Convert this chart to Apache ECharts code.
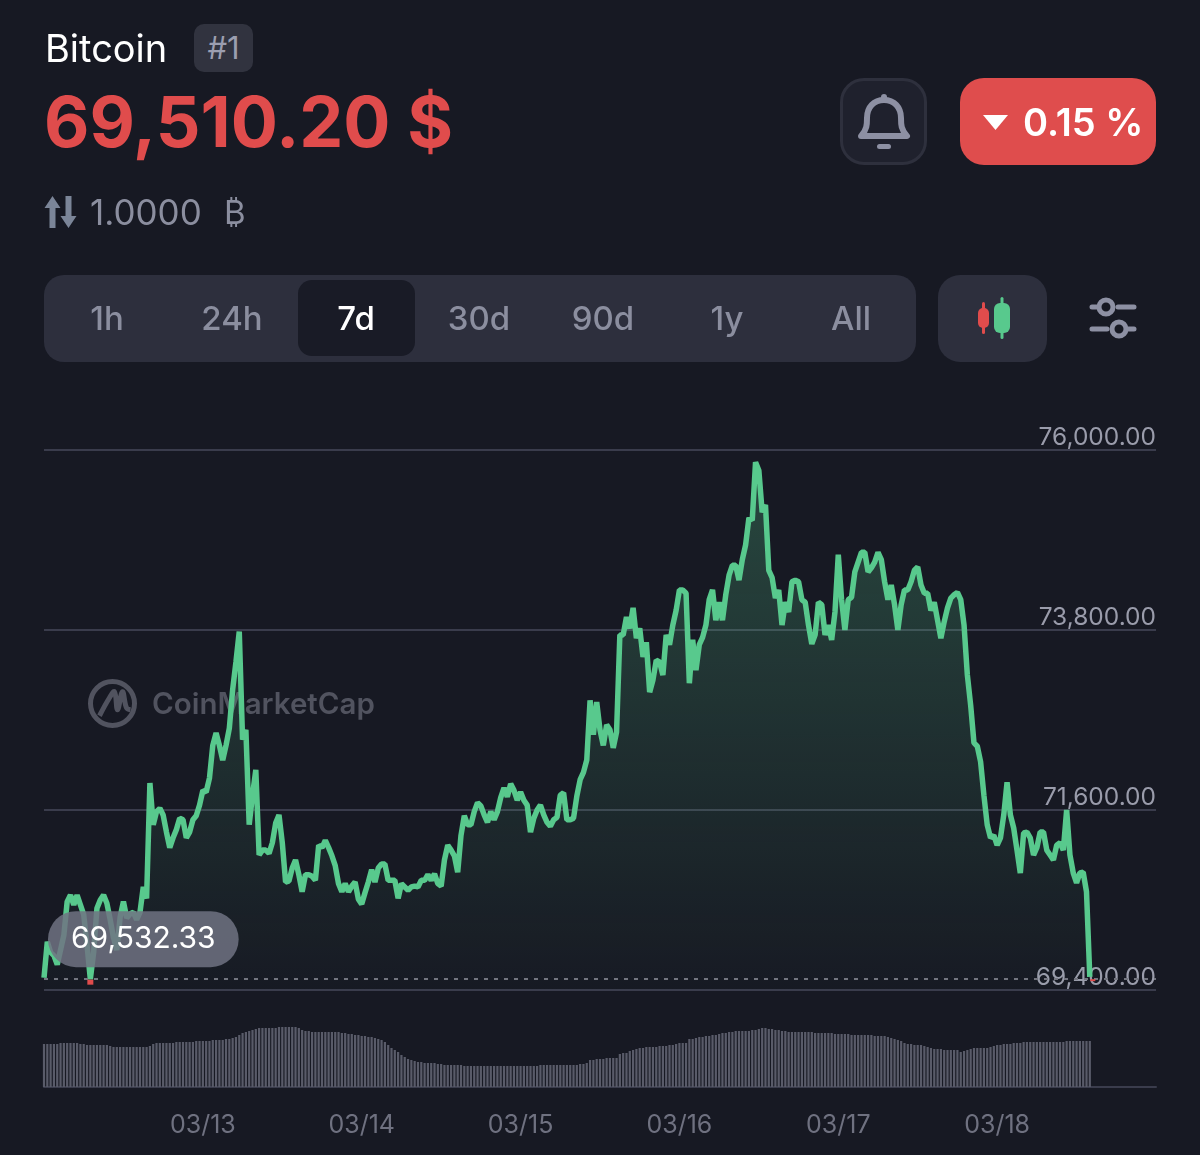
<!DOCTYPE html>
<html>
<head>
<meta charset="utf-8">
<title>Bitcoin</title>
<script src="https://cdn.jsdelivr.net/npm/echarts@6/dist/echarts.min.js"></script>
<style>
  html, body { margin: 0; padding: 0; background: #171923; }
  body { position: relative; width: 1200px; height: 1155px; overflow: hidden; font-family: Inter, "Noto Sans", sans-serif; }
  #chart { position: absolute; left: 0; top: 0; width: 1200px; height: 1155px; }
  .abs { position: absolute; white-space: nowrap; }
  .tab { position: absolute; top: 275px; height: 87px; line-height: 87px; width: 110px; margin-left: -55px; text-align: center; font-size: 33px; font-weight: 500; color: #8b8e9f; }
</style>
</head>
<body>
<div id="chart"></div>

<!-- header -->
<div class="abs" style="left:45px;top:26px;font-size:38px;line-height:44px;font-weight:400;color:#fff">Bitcoin</div>
<div class="abs" style="left:194px;top:24px;width:59px;height:48px;line-height:48px;border-radius:10px;background:#31333f;color:#9b9eb0;font-size:31px;text-align:center">#1</div>
<div class="abs" style="left:44px;top:78px;font-size:70px;line-height:88px;font-weight:700;color:#e04c4c">69,510.20 $</div>
<svg class="abs" style="left:43px;top:195px" width="35" height="34" viewBox="0 0 34 34">
  <path d="M9 1 L17 13 H12 V33 H6 V13 H1 Z M25 33 L33 21 H28 V1 H22 V21 H17 Z" fill="#7b8598"/>
</svg>
<div class="abs" style="left:90px;top:190px;font-size:35px;line-height:44px;color:#8b8e9f">1.0000</div>
<div class="abs" style="left:224px;top:190px;font-size:33px;line-height:44px;color:#8b8e9f">₿</div>

<!-- alert and change buttons -->
<div class="abs" style="left:840px;top:78px;width:81px;height:81px;border:3px solid #2e303d;border-radius:24px;background:#1f212d"></div>
<svg class="abs" style="left:855px;top:90px" width="58" height="64" viewBox="0 0 58 64">
  <path d="M6 46 C12 40 12 34 12 28 C12 17 19 10 29 10 C39 10 46 17 46 28 C46 34 46 40 52 46 Z" fill="none" stroke="#8d90a3" stroke-width="6" stroke-linejoin="round"/>
  <rect x="26" y="4" width="6" height="8" rx="3" fill="#8d90a3"/>
  <rect x="22" y="54" width="14" height="5" rx="2.5" fill="#8d90a3"/>
</svg>
<div class="abs" style="left:960px;top:78px;width:196px;height:87px;border-radius:24px;background:#df4d4d"></div>
<svg class="abs" style="left:982px;top:114px" width="27" height="17" viewBox="0 0 27 17"><path d="M1 1 H26 L13.5 16 Z" fill="#fff"/></svg>
<div class="abs" style="left:1023px;top:79px;height:87px;line-height:87px;font-size:38px;font-weight:600;color:#fff">0.15 %</div>

<!-- range tabs -->
<div class="abs" style="left:44px;top:275px;width:872px;height:87px;border-radius:20px;background:#2d2f3d"></div>
<div class="abs" style="left:298px;top:280px;width:117px;height:76px;border-radius:14px;background:#191b26"></div>
<div class="tab" style="left:107px">1h</div>
<div class="tab" style="left:232px">24h</div>
<div class="tab" style="left:356px;color:#fff">7d</div>
<div class="tab" style="left:479px">30d</div>
<div class="tab" style="left:603px">90d</div>
<div class="tab" style="left:727px">1y</div>
<div class="tab" style="left:851px">All</div>

<div class="abs" style="left:938px;top:275px;width:109px;height:87px;border-radius:22px;background:#2d2f3d"></div>
<svg class="abs" style="left:975px;top:296px" width="38" height="44" viewBox="0 0 38 44">
  <rect x="7" y="6" width="3" height="32" rx="1.5" fill="#e04c4c"/>
  <rect x="3" y="12" width="11" height="20" rx="5" fill="#e04c4c"/>
  <rect x="25.5" y="1" width="3" height="42" rx="1.5" fill="#58c98d"/>
  <rect x="19" y="7" width="16" height="30" rx="6" fill="#58c98d"/>
</svg>
<svg class="abs" style="left:1088px;top:296px" width="50" height="44" viewBox="0 0 50 44">
  <g fill="none" stroke="#8d90a3" stroke-width="5" stroke-linecap="round">
    <path d="M4 11 H9 M30 11 H46 M4 33 H19 M40 33 H46"/>
    <circle cx="18" cy="11" r="7"/>
    <circle cx="31" cy="33" r="7"/>
  </g>
</svg>

<script>
// 30 分钟一个点，从 03/12 00:00 开始
const stepHours = 0.5;
const priceLow = 69532.33;
const priceLowHour = 7;
const yTicks = [69400, 71600, 73800, 76000];
const dayLabels = ["03/12", "03/13", "03/14", "03/15", "03/16", "03/17", "03/18", "03/19"];

const priceValues = [
  69550,69990,69860,69820,69710,69890,70070,70480,70560,70440,
  70560,70440,70320,69950,priceLow,69860,70400,70500,70560,70460,
  70260,70040,69890,70290,70480,70280,70330,70350,70260,70350,
  70660,70520,71930,71420,71580,71620,71540,71330,71140,71260,
  71360,71500,71480,71260,71330,71480,71530,71660,71840,71820,
  71990,72390,72540,72390,72210,72390,72600,73070,73410,73780,
  72460,72580,71420,71780,72090,71050,71110,71110,71070,71200,
  71440,71540,71200,70720,70730,70890,70990,70810,70600,70810,
  70810,70790,70740,71170,71140,71230,71140,71040,70920,70700,
  70600,70700,70600,70670,70720,70510,70450,70590,70720,70870,
  70720,70890,70940,70940,70740,70740,70740,70520,70700,70660,
  70620,70660,70670,70660,70740,70740,70810,70740,70820,70700,
  70670,70990,71170,71110,71040,70840,71290,71530,71420,71420,
  71580,71690,71650,71540,71450,71580,71480,71580,71750,71870,
  71760,71920,71840,71720,71820,71720,71660,71330,71500,71600,
  71660,71540,71450,71400,71480,71510,71780,71810,71480,71480,
  71500,71770,71970,72060,72210,72940,72520,72920,72580,72390,
  72640,72580,72360,72550,73740,73740,73960,73820,74070,73700,
  73820,73470,73650,73040,73190,73430,73410,73250,73740,73620,
  73860,74040,74290,74290,74250,73150,73680,73310,73620,73710,
  73860,74170,74290,73920,74140,73920,74230,74470,74590,74590,
  74410,74660,74840,75170,75140,75850,75750,75240,75330,74530,
  74440,74190,74290,73860,74140,74020,74390,74410,74390,74170,
  74140,73860,73630,73740,74140,74110,73740,73860,73680,74020,
  74720,74170,73800,74170,74200,74510,74630,74750,74750,74510,
  74560,74630,74750,74660,74390,74170,74350,74110,73800,74110,
  74290,74290,74390,74530,74570,74350,74250,74250,74040,74140,
  73920,73700,73900,74070,74190,74230,74260,74170,73860,73250,
  72880,72420,72380,72190,71780,71420,71260,71290,71170,71260,
  71540,71940,71540,71380,71110,70830,71320,71330,71260,71050,
  71140,71330,71330,71110,71050,70990,71170,71200,71110,71600,
  71050,70830,70710,70830,70840,70600,69560
];

// 成交量（十亿）
const volumeValues = [
  43,43,43,43,43,44,44,44,44,44,
  44,43,43,42,42,42,42,42,42,42,
  41,40,40,40,40,40,40,40,40,40,
  40,40,41,43,44,44,44,44,44,44,
  45,45,45,45,45,45,46,46,46,46,
  46,47,47,47,47,48,48,49,50,52,
  54,55,56,57,58,59,59,59,59,59,
  59,60,60,60,60,60,60,59,57,56,
  56,55,55,55,55,55,55,55,55,55,
  54,54,53,53,52,52,51,51,50,50,
  49,48,47,45,42,39,37,35,32,30,
  28,27,26,25,25,24,24,24,24,23,
  23,22,22,22,22,22,22,21,21,21,
  21,21,21,21,21,21,21,21,21,21,
  21,21,21,21,21,21,21,21,21,21,
  22,22,22,22,22,22,22,22,22,22,
  22,22,23,23,24,27,27,28,28,28,
  29,29,29,29,33,34,34,36,37,38,
  39,39,40,40,40,40,41,41,41,42,
  42,43,44,44,44,48,48,49,50,50,
  51,51,52,52,53,54,54,55,55,56,
  56,56,56,56,57,57,58,59,59,58,
  58,57,57,56,56,55,55,55,55,55,
  55,55,55,54,54,54,54,54,54,53,
  53,53,53,53,52,52,52,52,52,52,
  52,51,51,51,51,50,49,48,47,46,
  44,43,43,42,42,42,41,40,39,38,
  38,38,37,37,37,37,37,35,36,37,
  38,39,39,39,39,39,40,41,42,42,
  43,43,43,44,44,44,45,45,45,45,
  45,45,45,45,45,45,45,45,45,46,
  46,46,46,46,46,46,46
];

const fontFamily = "Inter, 'Noto Sans', sans-serif";
const gridColor = "#3a3c4c";
const green = "#58c98d";
const red = "#e04c4c";
const watermark = "#51535f";

const chart = echarts.init(document.getElementById("chart"));
chart.setOption({
  backgroundColor: "transparent",
  animation: false,
  textStyle: { fontFamily },
  grid: [
    { left: 44, right: 44, top: 450, height: 540 },
    { left: 44, right: 44, top: 1027, height: 60 }
  ],
  xAxis: [
    { type: "value", gridIndex: 0, min: 0, max: 168, interval: 24, show: false },
    {
      type: "value", gridIndex: 1, min: 0, max: 168, interval: 24,
      splitLine: { show: false },
      axisTick: { show: false },
      axisLine: { lineStyle: { color: gridColor, width: 2 } },
      axisLabel: {
        showMinLabel: false, showMaxLabel: false, margin: 26,
        color: "#6f7180", fontSize: 25, fontFamily,
        formatter: (v) => dayLabels[v / 24]
      }
    }
  ],
  yAxis: [
    {
      type: "value", gridIndex: 0, position: "right", min: 69400, max: 76000,
      axisLine: { show: false },
      axisTick: { show: false, customValues: yTicks },
      splitLine: { show: true, lineStyle: { color: gridColor, width: 2 } },
      axisLabel: {
        customValues: yTicks, inside: true, margin: 0,
        align: "right", verticalAlign: "bottom", lineHeight: 24,
        color: "#9a9cab", fontSize: 24.5, fontFamily,
        formatter: (v) => v.toLocaleString("en-US", { minimumFractionDigits: 2 })
      }
    },
    { type: "value", gridIndex: 1, min: 0, max: 60, show: false }
  ],
  // 水印
  graphic: [
    { type: "circle", left: 88, top: 679, shape: { r: 22 }, style: { fill: "none", stroke: watermark, lineWidth: 5 } },
    { type: "polyline", left: 97, top: 689, shape: { smooth: 0.4, points: [[0, 26], [10, 8], [15, 2], [18, 20], [23, 2], [27, 18], [31, 20]] }, style: { fill: "none", stroke: watermark, lineWidth: 5 } },
    { type: "text", left: 152, top: 690, style: { text: "CoinMarketCap", fill: watermark, font: "600 29.5px " + fontFamily } }
  ],
  series: [
    {
      type: "line",
      xAxisIndex: 0, yAxisIndex: 0,
      data: priceValues.map((v, i) => [i * stepHours, v]),
      showSymbol: false,
      lineStyle: { color: green, width: 5.5, join: "bevel" },
      areaStyle: {
        origin: "start",
        color: new echarts.graphic.LinearGradient(0, 0, 0, 1, [
          { offset: 0, color: "rgba(88,201,141,0.38)" },
          { offset: 1, color: "rgba(88,201,141,0.01)" }
        ])
      },
      markLine: {
        silent: true, symbol: "none",
        label: { show: false },
        lineStyle: { color: "#73757f", type: [4, 6], width: 2 },
        data: [{ yAxis: priceLow }]
      },
      markPoint: {
        silent: true,
        data: [
          {
            coord: [priceLowHour, priceLow],
            symbol: "rect", symbolSize: [6, 5], symbolOffset: [0, 3],
            itemStyle: { color: red },
            label: {
              show: true, position: "inside", offset: [53, -43],
              formatter: priceLow.toLocaleString("en-US"),
              color: "#fff", fontSize: 30, fontFamily,
              backgroundColor: "rgba(112,115,131,0.85)",
              borderRadius: 28, padding: [13, 23]
            }
          },
          {
            coord: [(priceValues.length - 1) * stepHours, priceLow],
            symbol: "rect", symbolSize: [5, 2], symbolOffset: [3, 1],
            itemStyle: { color: red }, label: { show: false }
          }
        ]
      }
    },
    {
      type: "bar",
      xAxisIndex: 1, yAxisIndex: 1,
      data: volumeValues.map((v, i) => [i * stepHours, v]),
      barWidth: 2.2,
      itemStyle: { color: "#595b69" }
    }
  ]
});
</script>
</body>
</html>
